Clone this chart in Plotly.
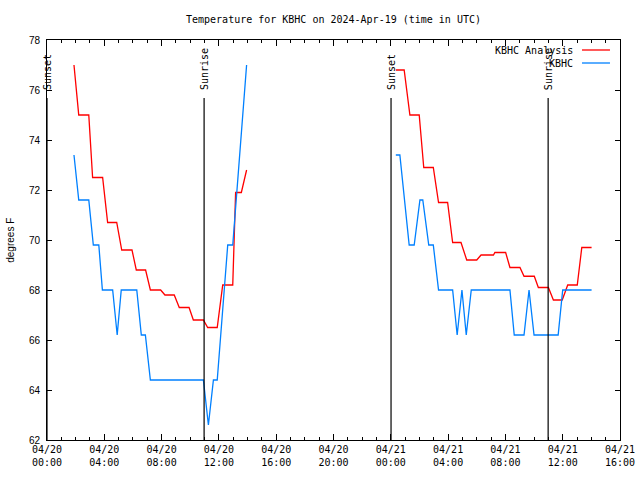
import plotly.graph_objects as go

# ---- data ----
day1 = "2024-04-20"
day2 = "2024-04-21"

analysis_d1_times = ["01:53", "02:13", "02:55", "03:11", "03:53", "04:14", "04:52", "05:13", "05:56",
                     "06:14", "06:53", "07:13", "07:56", "08:14", "08:53", "09:14", "09:55", "10:13",
                     "10:55", "11:13", "11:53", "12:16", "12:58", "13:10", "13:34", "13:56"]
analysis_d1_vals = [77.0, 75.0, 75.0, 72.5, 72.5, 70.7, 70.7, 69.6, 69.6,
                    68.8, 68.8, 68.0, 68.0, 67.8, 67.8, 67.3, 67.3, 66.8,
                    66.8, 66.5, 66.5, 68.2, 68.2, 71.9, 71.9, 72.8]
analysis_d2_times = ["00:21", "00:56", "01:20", "01:59", "02:18", "02:58", "03:20", "03:58", "04:19",
                     "04:54", "05:18", "06:00", "06:18", "07:10", "07:16", "08:01", "08:19", "09:01",
                     "09:18", "10:01", "10:18", "11:00", "11:21", "11:58", "12:21", "13:01", "13:20", "14:01"]
analysis_d2_vals = [76.8, 76.8, 75.0, 75.0, 72.9, 72.9, 71.5, 71.5, 69.9,
                    69.9, 69.2, 69.2, 69.4, 69.4, 69.5, 69.5, 68.9, 68.9,
                    68.55, 68.55, 68.1, 68.1, 67.6, 67.6, 68.2, 68.2, 69.7, 69.7]

obs_d1_times = ["01:53", "02:13", "02:55", "03:14", "03:37", "03:52", "04:35", "04:54", "05:11", "06:16",
                "06:35", "06:52", "07:13", "10:55", "11:16", "11:37", "11:53", "12:37", "12:58", "13:56"]
obs_d1_vals = [73.4, 71.6, 71.6, 69.8, 69.8, 68.0, 68.0, 66.2, 68.0, 68.0,
               66.2, 66.2, 64.4, 64.4, 62.6, 64.4, 64.4, 69.8, 69.8, 77.0]
obs_d2_times = ["00:21", "00:38", "01:17", "01:38", "02:02", "02:14", "02:39", "02:58", "03:20", "04:19",
                "04:38", "04:58", "05:16", "05:37", "08:19", "08:37", "09:18", "09:39", "10:00", "11:41",
                "12:00", "14:01"]
obs_d2_vals = [73.4, 73.4, 69.8, 69.8, 71.6, 71.6, 69.8, 69.8, 68.0, 68.0,
               66.2, 68.0, 66.2, 68.0, 68.0, 66.2, 66.2, 68.0, 66.2, 66.2,
               68.0, 68.0]

event_names = ["Sunset", "Sunrise", "Sunset", "Sunrise"]
event_times = ["2024-04-20 00:00", "2024-04-20 10:58", "2024-04-21 00:01", "2024-04-21 10:59"]

series_names = ["KBHC Analysis", "KBHC"]
series_colors = ["#ff0000", "#0080ff"]

x_range = ["2024-04-20 00:00", "2024-04-21 16:00"]
y_range = [62, 78]


def build(d1t, d1v, d2t, d2v):
    xs = [f"{day1} {t}" for t in d1t] + [None] + [f"{day2} {t}" for t in d2t]
    ys = list(d1v) + [None] + list(d2v)
    return xs, ys


ax_x, ax_y = build(analysis_d1_times, analysis_d1_vals, analysis_d2_times, analysis_d2_vals)
ob_x, ob_y = build(obs_d1_times, obs_d1_vals, obs_d2_times, obs_d2_vals)

MONO = "DejaVu Sans Mono"
SANS = "Liberation Sans"

fig = go.Figure()
fig.add_trace(go.Scatter(x=ax_x, y=ax_y, mode="lines", name=series_names[0],
                         line=dict(color=series_colors[0], width=1.3), connectgaps=False))
fig.add_trace(go.Scatter(x=ob_x, y=ob_y, mode="lines", name=series_names[1],
                         line=dict(color=series_colors[1], width=1.3), connectgaps=False))

shapes = []
annotations = []
for name, t in zip(event_names, event_times):
    shapes.append(dict(type="line", xref="x", yref="paper", x0=t, x1=t, y0=0, y1=0.855,
                       line=dict(color="black", width=1.2)))
    annotations.append(dict(x=t, xref="x", y=0.87, yref="paper", text=name, textangle=-90,
                            showarrow=False, xanchor="center", yanchor="bottom",
                            font=dict(family=MONO, size=10, color="black")))

# manual gnuplot-style legend (text left, sample line right)
leg_y = [0.975, 0.9425]
for name, col, yy in zip(series_names, series_colors, leg_y):
    annotations.append(dict(x=0.9215, xref="paper", y=yy, yref="paper", text=name,
                            showarrow=False, xanchor="right", yanchor="middle",
                            font=dict(family=MONO, size=10, color="black")))
    shapes.append(dict(type="line", xref="paper", yref="paper", x0=0.9337, x1=0.9825,
                       y0=yy, y1=yy, line=dict(color=col, width=1.3)))

annotations.append(dict(x=-0.065, xref="paper", y=0.5, yref="paper", text="degrees F",
                        textangle=-90, showarrow=False, xanchor="center", yanchor="middle",
                        font=dict(family=SANS, size=10, color="black")))

fig.update_layout(
    width=640, height=480,
    margin=dict(l=47, r=20, t=40, b=40, autoexpand=False),
    paper_bgcolor="white", plot_bgcolor="white",
    showlegend=False,
    title=dict(text="Temperature for KBHC on 2024-Apr-19 (time in UTC)",
               x=0.5, xref="paper", xanchor="center",
               y=1 - 19 / 480, yref="container", yanchor="middle",
               font=dict(family=MONO, size=10, color="black")),
    shapes=shapes, annotations=annotations,
)

fig.update_xaxes(
    type="date", range=x_range,
    dtick=4 * 3600 * 1000, tick0="2024-04-20 00:00",
    tickformat="%m/%d<br>%H:%M",
    ticks="inside", ticklen=6, tickcolor="black",
    minor=dict(dtick=3600 * 1000, ticks="inside", ticklen=3, tickcolor="black"),
    showline=True, linecolor="black", linewidth=1, mirror="allticks",
    showgrid=False, zeroline=False,
    tickfont=dict(family=MONO, size=10, color="black"),
)
fig.update_yaxes(
    range=y_range, dtick=2, tick0=62,
    ticks="inside", ticklen=5, tickcolor="black",
    showline=True, linecolor="black", linewidth=1, mirror="allticks",
    showgrid=False, zeroline=False, ticklabelstandoff=4,
    tickfont=dict(family=SANS, size=10, color="black"),
)

fig.write_html("out.html", config={"displayModeBar": False},
               post_script="document.body.style.margin='0';")
